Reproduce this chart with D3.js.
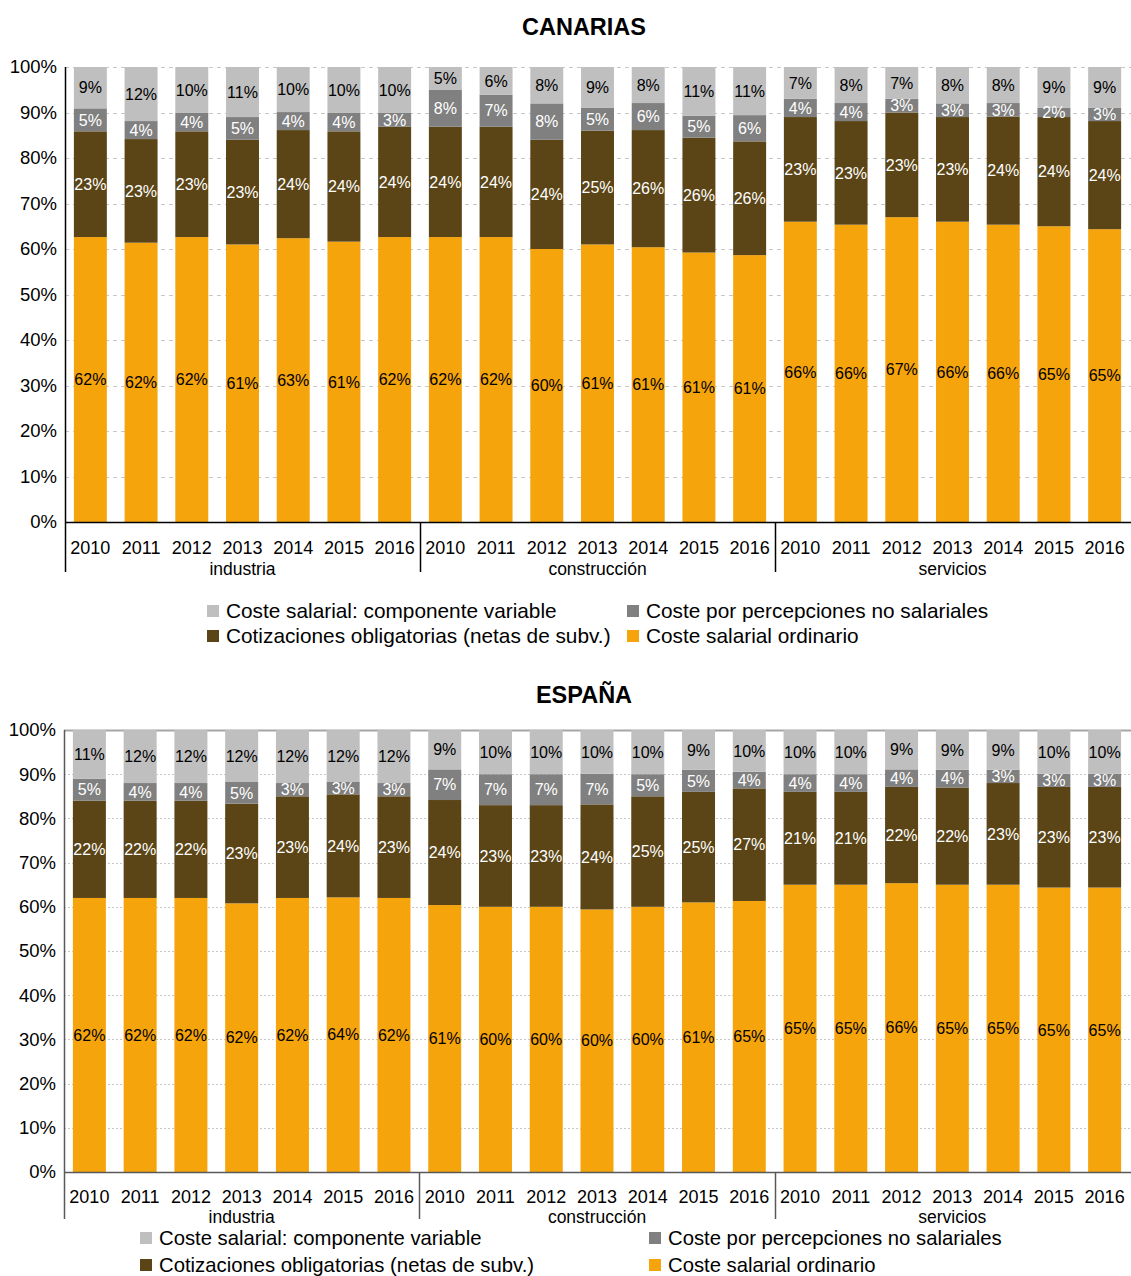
<!DOCTYPE html>
<html>
<head>
<meta charset="utf-8">
<script src="https://cdn.jsdelivr.net/npm/d3@7"></script>
<style>
  html, body { margin: 0; padding: 0; background: #fff; }
  svg { display: block; }
  text { font-family: "Liberation Sans", Arial, sans-serif; }
</style>
</head>
<body>
<svg id="chart" width="1131" height="1276"></svg>
<script>
// ---------- DATA ----------
const years = ["2010", "2011", "2012", "2013", "2014", "2015", "2016"];
const sectors = ["industria", "construcción", "servicios"];
const seriesNames = [
  "Coste salarial: componente variable",
  "Coste por percepciones no salariales",
  "Cotizaciones obligatorias (netas de subv.)",
  "Coste salarial ordinario"
];
const seriesColors = ["#bfbfbf", "#808080", "#5b4516", "#f6a40c"];
const labelColors = ["#000000", "#ffffff", "#ffffff", "#000000"];
const yTickValues = [0, 10, 20, 30, 40, 50, 60, 70, 80, 90, 100];

// CANARIAS (percent values as labelled; order: industria 2010-2016, construcción 2010-2016, servicios 2010-2016)
const canariasVariable     = [9, 12, 10, 11, 10, 10, 10,   5, 6, 8, 9, 8, 11, 11,   7, 8, 7, 8, 8, 9, 9];
const canariasNoSalarial   = [5, 4, 4, 5, 4, 4, 3,         8, 7, 8, 5, 6, 5, 6,     4, 4, 3, 3, 3, 2, 3];
const canariasCotizaciones = [23, 23, 23, 23, 24, 24, 24,  24, 24, 24, 25, 26, 26, 26,  23, 23, 23, 23, 24, 24, 24];
const canariasOrdinario    = [62, 62, 62, 61, 63, 61, 62,  62, 62, 60, 61, 61, 61, 61,  66, 66, 67, 66, 66, 65, 65];

// ESPAÑA
const espanaVariable     = [11, 12, 12, 12, 12, 12, 12,  9, 10, 10, 10, 10, 9, 10,   10, 10, 9, 9, 9, 10, 10];
const espanaNoSalarial   = [5, 4, 4, 5, 3, 3, 3,         7, 7, 7, 7, 5, 5, 4,        4, 4, 4, 4, 3, 3, 3];
const espanaCotizaciones = [22, 22, 22, 23, 23, 24, 23,  24, 23, 23, 24, 25, 25, 27,  21, 21, 22, 22, 23, 23, 23];
const espanaOrdinario    = [62, 62, 62, 62, 62, 64, 62,  61, 60, 60, 60, 60, 61, 65,  65, 65, 66, 65, 65, 65, 65];

// ---------- DRAW ----------
const svg = d3.select("#chart");
const keys = ["ordinario", "cotizaciones", "noSalarial", "variable"];
const keyToSeries = { variable: 0, noSalarial: 1, cotizaciones: 2, ordinario: 3 };

const categories = [];
sectors.forEach(s => years.forEach(y => categories.push({ sector: s, year: y, id: s + "|" + y })));

function buildRows(variable, noSal, cotiz, ordin) {
  return categories.map((c, i) => ({
    id: c.id, sector: c.sector, year: c.year,
    variable: variable[i], noSalarial: noSal[i], cotizaciones: cotiz[i], ordinario: ordin[i]
  }));
}

const panels = [
  {
    title: "CANARIAS", titleBase: 35, titleSize: 23.5,
    rows: buildRows(canariasVariable, canariasNoSalarial, canariasCotizaciones, canariasOrdinario),
    y0: 522, y100: 67, axisLeft: 65, yearBase: 554, groupBase: 575, sepBottom: 572,
    gridDash: "4,4", axisColor: "#000000", solidTop: false,
    legend: { x: [207, 627], rows: [611, 636], size: 20.8 }
  },
  {
    title: "ESPAÑA", titleBase: 703, titleSize: 23.5,
    rows: buildRows(espanaVariable, espanaNoSalarial, espanaCotizaciones, espanaOrdinario),
    y0: 1172, y100: 730, axisLeft: 64, yearBase: 1203, groupBase: 1223, sepBottom: 1219,
    gridDash: "2,2", axisColor: "#595959", solidTop: true,
    legend: { x: [140, 649], rows: [1238, 1265], size: 20.3 }
  }
];

const plotRight = 1131;

panels.forEach(p => {
  const g = svg.append("g");
  const x = d3.scaleBand()
    .domain(categories.map(c => c.id))
    .range([p.axisLeft, plotRight - 1])
    .paddingInner(0.35)
    .paddingOuter(0.175);
  const y = d3.scaleLinear().domain([0, 1]).range([p.y0, p.y100]);

  // title
  g.append("text")
    .attr("x", 584).attr("y", p.titleBase)
    .attr("text-anchor", "middle")
    .attr("font-size", p.titleSize).attr("font-weight", "bold")
    .attr("fill", "#000")
    .text(p.title);

  // gridlines
  g.append("g").selectAll("line")
    .data(yTickValues.filter(v => v > 0))
    .join("line")
    .attr("x1", p.axisLeft).attr("x2", plotRight)
    .attr("y1", d => Math.round(y(d / 100)) + 0.5)
    .attr("y2", d => Math.round(y(d / 100)) + 0.5)
    .attr("stroke", d => (d === 100 && p.solidTop) ? "#a6a6a6" : "#c8c8c8")
    .attr("stroke-width", d => (d === 100 && p.solidTop) ? 2 : 1)
    .attr("stroke-dasharray", d => (d === 100 && p.solidTop) ? null : p.gridDash);

  // y-axis tick labels
  const yAxis = d3.axisLeft(y)
    .tickValues(yTickValues.map(v => v / 100))
    .tickFormat(d => Math.round(d * 100) + "%")
    .tickSize(0).tickPadding(8);
  const ya = g.append("g")
    .attr("transform", `translate(${p.axisLeft},0)`)
    .call(yAxis);
  ya.select(".domain").remove();
  ya.selectAll("text")
    .attr("font-size", 18.5)
    .attr("font-family", "Liberation Sans, Arial, sans-serif")
    .attr("fill", "#000");

  // stacked bars (100% stacked)
  const stack = d3.stack().keys(keys).offset(d3.stackOffsetExpand);
  const series = stack(p.rows);

  const layers = g.append("g").selectAll("g")
    .data(series)
    .join("g")
    .attr("fill", s => seriesColors[keyToSeries[s.key]]);

  layers.selectAll("rect")
    .data(s => s.map(d => ({ key: s.key, d0: d[0], d1: d[1], data: d.data })))
    .join("rect")
    .attr("x", d => x(d.data.id))
    .attr("width", x.bandwidth())
    .attr("y", d => y(d.d1))
    .attr("height", d => y(d.d0) - y(d.d1));

  // labels
  const lbl = g.append("g");
  series.forEach(s => {
    lbl.selectAll(null)
      .data(s)
      .join("text")
      .attr("x", d => x(d.data.id) + x.bandwidth() / 2)
      .attr("y", d => y((d[0] + d[1]) / 2))
      .attr("dy", "0.36em")
      .attr("text-anchor", "middle")
      .attr("font-size", 16)
      .attr("fill", labelColors[keyToSeries[s.key]])
      .text(d => d.data[s.key] + "%");
  });

  // x axis line (0%)
  g.append("line")
    .attr("x1", p.axisLeft).attr("x2", plotRight)
    .attr("y1", p.y0 + 0.5).attr("y2", p.y0 + 0.5)
    .attr("stroke", p.axisColor).attr("stroke-width", 1.5);

  // y axis line
  g.append("line")
    .attr("x1", p.axisLeft + 0.5).attr("x2", p.axisLeft + 0.5)
    .attr("y1", p.y100).attr("y2", p.sepBottom)
    .attr("stroke", p.axisColor).attr("stroke-width", 1.5);

  // group separators
  const step = x.step();
  [7, 14].forEach(i => {
    const sx = Math.round(p.axisLeft + step * i) + 0.5;
    g.append("line")
      .attr("x1", sx).attr("x2", sx)
      .attr("y1", p.y0).attr("y2", p.sepBottom)
      .attr("stroke", p.axisColor).attr("stroke-width", 1.5);
  });

  // year labels
  g.append("g").selectAll("text")
    .data(categories)
    .join("text")
    .attr("x", d => x(d.id) + x.bandwidth() / 2)
    .attr("y", p.yearBase)
    .attr("text-anchor", "middle")
    .attr("font-size", 18)
    .attr("fill", "#000")
    .text(d => d.year);

  // sector labels
  g.append("g").selectAll("text")
    .data(sectors)
    .join("text")
    .attr("x", (d, i) => p.axisLeft + step * (i * 7 + 3.5))
    .attr("y", p.groupBase)
    .attr("text-anchor", "middle")
    .attr("font-size", 17.5)
    .attr("fill", "#000")
    .text(d => d);

  // legend
  const lg = g.append("g");
  [0, 1, 2, 3].forEach((si, i) => {
    const col = i % 2, row = Math.floor(i / 2);
    const lx = p.legend.x[col], ly = p.legend.rows[row];
    lg.append("rect")
      .attr("x", lx).attr("y", ly - 6)
      .attr("width", 12).attr("height", 12)
      .attr("fill", seriesColors[si]);
    lg.append("text")
      .attr("x", lx + 19).attr("y", ly)
      .attr("dy", "0.36em")
      .attr("font-size", p.legend.size)
      .attr("fill", "#000")
      .text(seriesNames[si]);
  });
});
</script>
</body>
</html>
